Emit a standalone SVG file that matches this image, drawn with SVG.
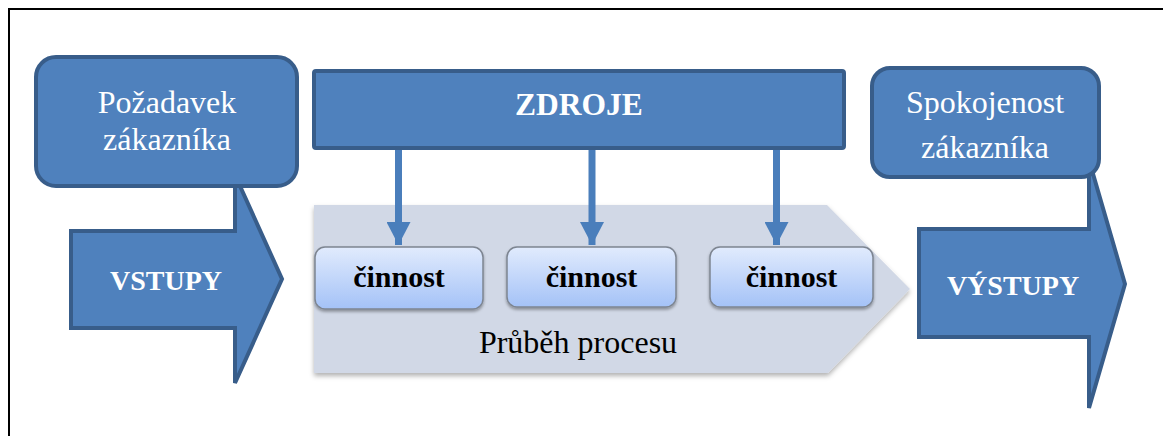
<svg xmlns="http://www.w3.org/2000/svg" width="1163" height="436" viewBox="0 0 1163 436">
  <defs>
    <linearGradient id="actGrad" x1="0" y1="0" x2="0" y2="1">
      <stop offset="0" stop-color="#e1ebfd"/>
      <stop offset="1" stop-color="#a4c2f7"/>
    </linearGradient>
    <filter id="shadow" x="-10%" y="-10%" width="125%" height="135%">
      <feDropShadow dx="0" dy="3" stdDeviation="2.5" flood-color="#000" flood-opacity="0.3"/>
    </filter>
    <filter id="shadowSmall" x="-10%" y="-10%" width="125%" height="140%">
      <feDropShadow dx="0" dy="2" stdDeviation="1.5" flood-color="#000" flood-opacity="0.35"/>
    </filter>
    <marker id="head" markerUnits="userSpaceOnUse" markerWidth="24" markerHeight="24" viewBox="0 0 24 24" refX="23" refY="12" orient="auto">
      <path d="M0,0 L23,12 L0,24 Z" fill="#4a7ebb"/>
    </marker>
  </defs>
  <style>
    .blue { fill: #4f81bd; stroke: #385d8a; stroke-width: 4; stroke-linejoin: miter; }
    .act { fill: url(#actGrad); stroke: #7d8591; stroke-width: 1.5; }
    text { font-family: 'Liberation Serif', 'DejaVu Serif', serif; }
    .reg { font-size: 32px; fill: #ffffff; text-anchor: middle; }
    .bold { font-weight: bold; fill: #ffffff; text-anchor: middle; }
    .actText { font-weight: bold; font-size: 30px; fill: #000000; text-anchor: middle; }
    .conn { stroke: #4a7ebb; stroke-width: 7; fill: none; }
  </style>

  <rect width="1163" height="436" fill="#ffffff"/>
  <path d="M9,436 L9,9 L1163,9" fill="none" stroke="#000000" stroke-width="2"/>

  <g id="process">
    <path d="M314,205 L827,205 L910,289 L828,373 L314,373 Z" fill="#d1d8e6" filter="url(#shadow)"/>
    <text x="578" y="353" class="reg" fill="#000000" style="fill:#000000" font-family="Liberation Serif, serif">Průběh procesu</text>
  </g>

  <g id="connectors">
    <path class="conn" d="M398.5,141 L398.5,245" marker-end="url(#head)"/>
    <path class="conn" d="M592,141 L592,245" marker-end="url(#head)"/>
    <path class="conn" d="M776.5,149 L776.5,245" marker-end="url(#head)"/>
  </g>

  <g id="cinnost1">
    <rect x="315" y="247" width="168" height="62" rx="10" class="act" filter="url(#shadowSmall)"/>
    <text x="399" y="287" class="actText" font-family="Liberation Serif, serif">činnost</text>
  </g>
  <g id="cinnost2">
    <rect x="507" y="247" width="169" height="60" rx="10" class="act" filter="url(#shadowSmall)"/>
    <text x="591.5" y="287" class="actText" font-family="Liberation Serif, serif">činnost</text>
  </g>
  <g id="cinnost3">
    <rect x="710" y="247" width="163" height="60" rx="10" class="act" filter="url(#shadowSmall)"/>
    <text x="791.5" y="287" class="actText" font-family="Liberation Serif, serif">činnost</text>
  </g>

  <g id="vstupy">
    <path d="M71,231 L235,231 L235,175 L282,279 L235,383 L235,328 L71,328 Z" class="blue"/>
    <text x="166" y="290" class="bold" font-size="28" font-family="Liberation Serif, serif">VSTUPY</text>
  </g>

  <g id="pozadavek">
    <rect x="36" y="57" width="261" height="129" rx="20" class="blue"/>
    <text x="167" y="113" class="reg" font-family="Liberation Serif, serif">Požadavek</text>
    <text x="167" y="150" class="reg" font-family="Liberation Serif, serif">zákazníka</text>
  </g>

  <g id="vystupy">
    <path d="M919,229 L1089,229 L1089,160 L1125,284 L1089,408 L1089,337 L919,337 Z" class="blue"/>
    <text x="1013" y="295" class="bold" font-size="28" font-family="Liberation Serif, serif">VÝSTUPY</text>
  </g>

  <g id="spokojenost">
    <rect x="872" y="68" width="227" height="109" rx="18" class="blue"/>
    <text x="985" y="113" class="reg" font-family="Liberation Serif, serif">Spokojenost</text>
    <text x="985" y="158" class="reg" font-family="Liberation Serif, serif">zákazníka</text>
  </g>

  <g id="zdroje">
    <rect x="314" y="71" width="530" height="77" rx="2" class="blue"/>
    <text x="579" y="115" class="bold" font-size="31.5" font-family="Liberation Serif, serif">ZDROJE</text>
  </g>
</svg>
